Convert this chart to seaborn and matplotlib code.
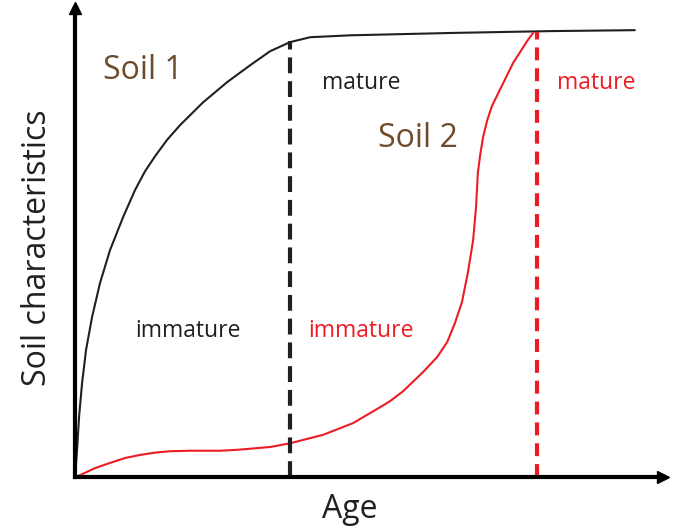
import pandas as pd
import matplotlib.pyplot as plt
import seaborn as sns

# values (age and characteristics both on a 0-100 scale)
soil1_age = [0, 0.34, 0.68, 1.19, 1.87, 2.89, 4.25, 5.95, 8.16, 10.2, 11.9, 13.6, 15.65, 17.86,
             21.77, 25.85, 29.76, 33.16, 36.56, 40.0, 46.8, 63.8, 80.8, 95.2]
soil1_val = [0, 5.8, 12.8, 20.0, 27.1, 34.1, 41.4, 48.4, 55.4, 61.2, 65.2, 68.4, 71.9, 75.05,
             79.9, 84.2, 87.8, 90.8, 92.75, 93.8, 94.2, 94.7, 95.1, 95.3]

soil2_age = [0, 0.85, 3.4, 5.95, 8.5, 11.05, 13.6, 16.2, 19.6, 24.7, 27.6, 33.2, 36.6,
             42.2, 47.3, 51.9, 53.6, 55.8, 59.2, 61.6, 63.3, 64.6, 65.8, 66.8, 67.7,
             68.2, 68.5, 68.9, 69.4, 70.1, 70.9, 72.3, 74.5, 76.9, 77.9]
soil2_val = [0, 0.4, 1.9, 3.0, 4.05, 4.7, 5.2, 5.5, 5.6, 5.6, 5.8, 6.4, 7.2,
             9.0, 11.5, 14.9, 16.2, 18.3, 22.4, 25.6, 28.8, 32.8, 37.3, 43.5, 50.5,
             57.6, 64.8, 68.7, 72.5, 76.1, 79.1, 82.7, 88.3, 93.0, 94.7]

soil1_mature_age, soil1_mature_val = 36.6, 93.0
soil2_mature_age, soil2_mature_val = 78.6, 95.0

sns.set_style("white")
plt.rcParams["font.family"] = ["Open Sans", "DejaVu Sans"]

brown = "#6d4c2c"
red = "#ed1c24"
dark = "#231f20"

soil1_df = pd.DataFrame({"Age": soil1_age, "Soil characteristics": soil1_val})
soil2_df = pd.DataFrame({"Age": soil2_age, "Soil characteristics": soil2_val})

fig = plt.figure(figsize=(6.95, 5.28), dpi=100)
ax = fig.add_axes([0.108, 0.0966, 0.846, 0.888])

sns.lineplot(data=soil1_df, x="Age", y="Soil characteristics", color=dark, lw=1.5, ax=ax, sort=False)
sns.lineplot(data=soil2_df, x="Age", y="Soil characteristics", color=red, lw=1.5, ax=ax, sort=False)

# maturity thresholds
ax.plot([soil1_mature_age, soil1_mature_age], [0, soil1_mature_val], color=dark, lw=3, dashes=(3.8, 1.9))
ax.plot([soil2_mature_age, soil2_mature_age], [0, soil2_mature_val], color=red, lw=3, dashes=(3.1, 1.9))

ax.set_xlim(0, 100)
ax.set_ylim(0, 100)
ax.set_xticks([])
ax.set_yticks([])

for side in ["top", "right"]:
    ax.spines[side].set_visible(False)
for side in ["left", "bottom"]:
    ax.spines[side].set_linewidth(3)
    ax.spines[side].set_color("black")

# arrow heads on the axes
ax.plot(1, 0, ">", color="black", ms=9, transform=ax.get_yaxis_transform(), clip_on=False)
ax.plot(0, 1, "^", color="black", ms=9, transform=ax.get_xaxis_transform(), clip_on=False)

ax.set_xlabel("Age", fontsize=23, color=dark)
ax.set_ylabel("Soil characteristics", fontsize=23, color=dark)
ax.xaxis.set_label_coords(0.468, -0.035)
ax.yaxis.set_label_coords(-0.036, 0.49)

ax.text(4.8, 86.8, "Soil 1", fontsize=23, color=brown, ha="left", va="center")
ax.text(51.5, 72.1, "Soil 2", fontsize=23, color=brown, ha="left", va="center")
ax.text(42.0, 84.0, "mature", fontsize=16.5, color=dark, ha="left", va="center")
ax.text(82.0, 84.0, "mature", fontsize=16.5, color=red, ha="left", va="center")
ax.text(10.2, 31.1, "immature", fontsize=16.5, color=dark, ha="left", va="center")
ax.text(39.6, 31.1, "immature", fontsize=16.5, color=red, ha="left", va="center")

plt.savefig("out.png", dpi=100)
